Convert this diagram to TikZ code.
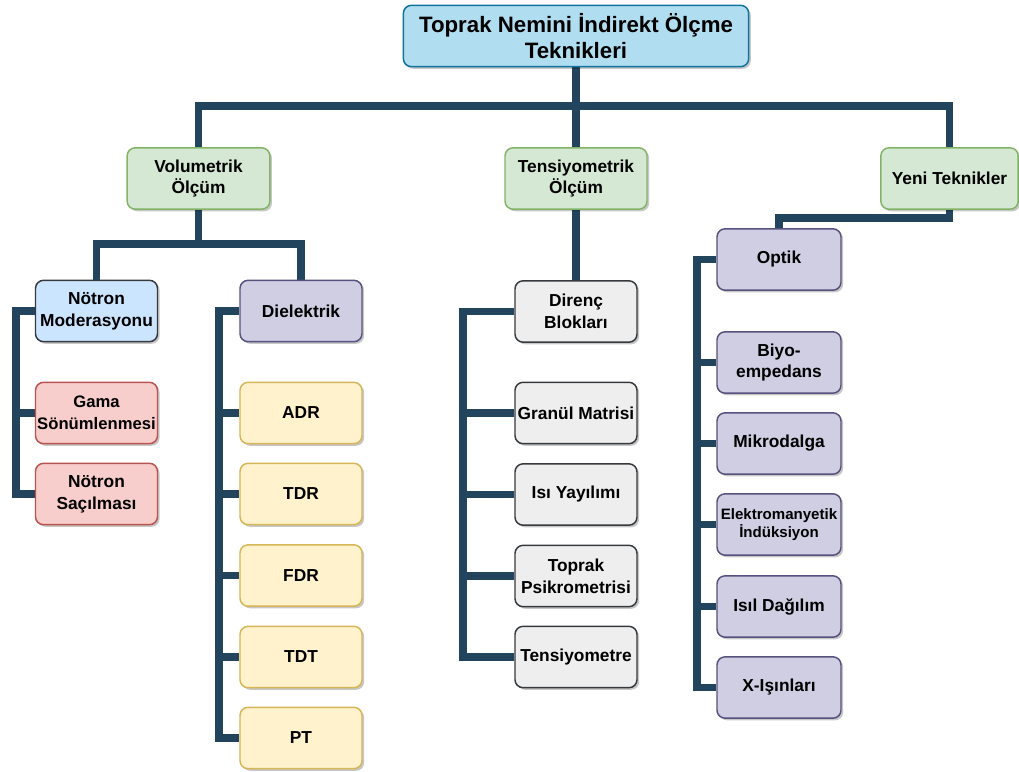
\documentclass[tikz,border=0pt]{standalone}
\usepackage{fontspec}
\setmainfont{Liberation Sans}
\usetikzlibrary{shadows, backgrounds}

\begin{document}
\begin{tikzpicture}[x=0.75pt, y=-0.75pt,
    box/.style={draw, rounded corners=6pt, line width=1.1pt, align=center,
        inner sep=0pt, minimum width=91.5pt, minimum height=46pt,
        font=\bfseries\fontsize{13}{16.3}\selectfont,
        drop shadow={shadow xshift=1.6pt, shadow yshift=-1.6pt, fill=black, opacity=0.22}},
    mainBox/.style={box, fill=titleFill, draw=titleBorder, minimum width=259pt,
        font=\bfseries\fontsize{16.7}{19}\selectfont},
    groupBox/.style={box, fill=groupFill, draw=groupBorder},
    neutronBox/.style={box, fill=neutronFill, draw=darkBorder},
    redBox/.style={box, fill=redFill, draw=redBorder},
    violetBox/.style={box, fill=violetFill, draw=violetBorder},
    yellowBox/.style={box, fill=yellowFill, draw=yellowBorder},
    greyBox/.style={box, fill=greyFill, draw=darkBorder},
    link/.style={draw=linkColour, line width=5.6pt}]
    % Define colours
    \definecolor{titleFill}{HTML}{B1DDF0}
    \definecolor{titleBorder}{HTML}{10739E}
    \definecolor{groupFill}{HTML}{D5E8D4}
    \definecolor{groupBorder}{HTML}{82B366}
    \definecolor{neutronFill}{HTML}{CCE5FF}
    \definecolor{darkBorder}{HTML}{36393D}
    \definecolor{redFill}{HTML}{F8CECC}
    \definecolor{redBorder}{HTML}{B85450}
    \definecolor{violetFill}{HTML}{D0CEE2}
    \definecolor{violetBorder}{HTML}{56517E}
    \definecolor{yellowFill}{HTML}{FFF2CC}
    \definecolor{yellowBorder}{HTML}{D6B656}
    \definecolor{greyFill}{HTML}{EEEEEE}
    \definecolor{linkColour}{HTML}{23445D}

    \useasboundingbox (0,0) rectangle (1019,771);

    % Bus and bar positions
    \coordinate (mainBus) at (0,106);
    \coordinate (volBus) at (0,244);
    \coordinate (yeniBus) at (0,218);
    \coordinate (neutronBar) at (16,0);
    \coordinate (dielBar) at (219,0);
    \coordinate (direncBar) at (463,0);
    \coordinate (optikBar) at (697,0);

    % Top and group nodes
    \node[mainBox] (title) at (576,36) {Toprak Nemini İndirekt Ölçme\\Teknikleri};
    \node[groupBox, minimum width=107pt] (vol) at (198.5,178.5) {Volumetrik\\Ölçüm};
    \node[groupBox, minimum width=106.5pt] (tens) at (576,178.5) {Tensiyometrik\\Ölçüm};
    \node[groupBox, minimum width=103pt] (yeni) at (949.5,178.5) {Yeni Teknikler};

    % Volumetric branch
    \node[neutronBox] (notron) at (96.5,311) {Nötron\\Moderasyonu};
    \node[violetBox] (diel) at (301,311) {Dielektrik};
    \node[redBox, font=\bfseries\fontsize{12.5}{16.3}\selectfont] (gama) at (96.5,413) {Gama\\Sönümlenmesi};
    \node[redBox] (sacilma) at (96.5,494) {Nötron\\Saçılması};
    \node[yellowBox] (adr) at (301,413) {ADR};
    \node[yellowBox] (tdr) at (301,494) {TDR};
    \node[yellowBox] (fdr) at (301,575.5) {FDR};
    \node[yellowBox] (tdt) at (301,657) {TDT};
    \node[yellowBox] (pt) at (301,738) {PT};

    % Tensiometric branch
    \node[greyBox] (direnc) at (576,311.5) {Direnç\\Blokları};
    \node[greyBox] (granul) at (576,413) {Granül Matrisi};
    \node[greyBox] (isi) at (576,494.5) {Isı Yayılımı};
    \node[greyBox] (psikro) at (576,576) {Toprak\\Psikrometrisi};
    \node[greyBox] (tensiyo) at (576,657) {Tensiyometre};

    % New techniques branch
    \node[violetBox, minimum width=93pt] (optik) at (779,259.5) {Optik};
    \node[violetBox, minimum width=93pt] (biyo) at (779,362.5) {Biyo-\\empedans};
    \node[violetBox, minimum width=93pt] (mikro) at (779,443.5) {Mikrodalga};
    \node[violetBox, minimum width=93pt, font=\bfseries\fontsize{11.3}{13.5}\selectfont] (elektro) at (779,524.5) {Elektromanyetik\\İndüksiyon};
    \node[violetBox, minimum width=93pt] (isil) at (779,606.5) {Isıl Dağılım};
    \node[violetBox, minimum width=93pt] (xray) at (779,687.5) {X-Işınları};

    % Draw connectors
    \begin{scope}[on background layer]
    \draw[link] (title.south) -- (tens.north);
    \draw[link] (vol.north) |- (mainBus -| tens) -| (yeni.north);
    \draw[link] (vol.south) -- (vol.south |- volBus);
    \draw[link] (notron.north) |- (volBus -| vol) -| (diel.north);
    \draw[link] (tens.south) -- (direnc.north);
    \draw[link] (yeni.south) |- (yeniBus -| optik) -- (optik.north);

    \draw[link] (notron.west) -| (neutronBar |- sacilma) -- (sacilma.west);
    \draw[link] (gama.west) -- (gama.west -| neutronBar);

    \draw[link] (diel.west) -| (dielBar |- pt) -- (pt.west);
    \foreach \n in {adr, tdr, fdr, tdt}
        \draw[link] (\n.west) -- (\n.west -| dielBar);

    \draw[link] (direnc.west) -| (direncBar |- tensiyo) -- (tensiyo.west);
    \foreach \n in {granul, isi, psikro}
        \draw[link] (\n.west) -- (\n.west -| direncBar);

    \draw[link] (optik.west) -| (optikBar |- xray) -- (xray.west);
    \foreach \n in {biyo, mikro, elektro, isil}
        \draw[link] (\n.west) -- (\n.west -| optikBar);
    \end{scope}

\end{tikzpicture}
\end{document}
